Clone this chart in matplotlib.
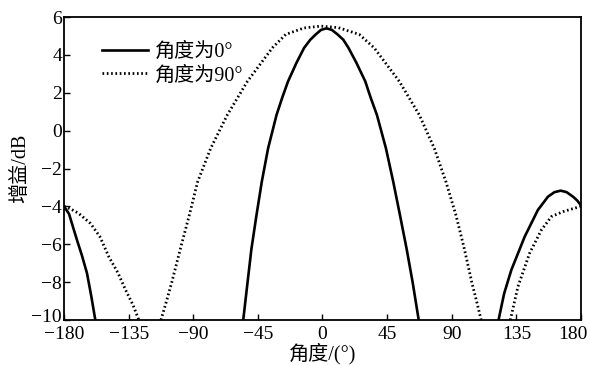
import numpy as np
import matplotlib
matplotlib.use("Agg")
import matplotlib.pyplot as plt
from matplotlib.transforms import ScaledTranslation

plt.rcParams['font.family'] = ['Liberation Serif', 'Noto Sans CJK SC']
plt.rcParams['font.size'] = 14.5
plt.rcParams['axes.unicode_minus'] = True
plt.rcParams['lines.scale_dashes'] = False

# 角度为0° : two rear lobes and the main lobe (NaN breaks the segments)
ang0 = [-180, -176.5, -174.5, -171, -167.5, -164, -161, -158.2, np.nan,
        -55.2, -52.2, -49.5, -46, -42.3, -37.9, -32, -28, -24, -18, -12.8, -8.5, -4.7, -1, 2.8, 6.5, 10.5,
        14.5, 18.1, 23.5, 29.8, 33.5, 37.9, 44.2, 49.3, 54, 58.6, 62.8, 67, np.nan,
        122.6, 126.5, 131.5, 140.8, 150, 157, 161.5, 165.9, 170, 174.5, 177.5, 180]
gain0 = [-4.0, -4.4, -4.9, -5.77, -6.6, -7.53, -8.75, -10, np.nan,
         -10, -8.02, -6.25, -4.48, -2.71, -0.94, 0.83, 1.75, 2.6, 3.6, 4.37, 4.8, 5.08, 5.32, 5.40, 5.32, 5.08,
         4.8, 4.37, 3.6, 2.6, 1.75, 0.83, -0.94, -2.71, -4.48, -6.25, -8.02, -10, np.nan,
         -10, -8.6, -7.36, -5.6, -4.19, -3.49, -3.25, -3.17, -3.25, -3.49, -3.7, -3.95]

# 角度为90°
ang90 = [-180, -175, -169.8, -161.6, -155, -148.8, -142.5, -137.2, -132, -127.9, np.nan,
         -112.5, -109, -105, -99, -92.8, -87, -77.9, -66.3, -52.3, -34.9, -25.6, -13, -1.2, 11, 25.6, 36,
         53.5, 67.4, 77.9, 86, 93, 98.8, 104, 107.6, 110.5, np.nan,
         130.8, 136.1, 144.2, 152.4, 159.4, 163, 167.5, 173, 180]
gain90 = [-4.0, -4.15, -4.37, -4.9, -5.6, -6.66, -7.5, -8.4, -9.2, -10, np.nan,
          -10, -9.1, -8.02, -6.25, -4.48, -2.71, -0.94, 0.83, 2.6, 4.37, 5.08, 5.42, 5.52, 5.44, 5.08, 4.37,
          2.6, 0.83, -0.94, -2.71, -4.48, -6.25, -8.02, -9.1, -10, np.nan,
          -10, -8.24, -6.48, -5.25, -4.54, -4.42, -4.28, -4.15, -4.0]

xticks = [-180, -135, -90, -45, 0, 45, 90, 135, 180]
yticks = [-10, -8, -6, -4, -2, 0, 2, 4, 6]


def main():
    fig = plt.figure(figsize=(5.9, 3.65), dpi=100, facecolor='w')
    ax = fig.add_axes([0.1085, 0.1233, 0.8762, 0.8301])

    ax.plot(ang0, gain0, 'k-', lw=1.9, label='角度为0°')
    ax.plot(ang90, gain90, color='k', lw=2.0, linestyle=(0, (1.2, 1.9)), label='角度为90°')

    ax.set_xlim(-180, 180)
    ax.set_ylim(-10, 6)
    ax.set_xticks(xticks)
    ax.set_yticks(yticks)
    ax.tick_params(axis='x', direction='in', length=4, width=1, top=False, pad=4, labelsize=14)
    ax.tick_params(axis='y', direction='in', length=4, width=1, right=False, pad=1.5, labelsize=14)
    for s in ax.spines.values():
        s.set_linewidth(1.3)

    # pull the last x label in so it stays inside the figure
    lab = ax.get_xticklabels()[-1]
    lab.set_transform(lab.get_transform() + ScaledTranslation(-6 / 72, 0, fig.dpi_scale_trans))
    # nudge the bottom y label up so it clears the -180 label
    lab = ax.get_yticklabels()[0]
    lab.set_transform(lab.get_transform() + ScaledTranslation(0, 3 / 72, fig.dpi_scale_trans))

    ax.set_xlabel('角度/(°)', labelpad=0)
    ax.set_ylabel('增益/dB', labelpad=1)

    ax.legend(loc='upper left', bbox_to_anchor=(0.073, 0.915), frameon=False,
              borderpad=0, borderaxespad=0, handlelength=2.3, handletextpad=0.35,
              labelspacing=0.2)

    fig.savefig('out.png', dpi=100)


if __name__ == '__main__':
    main()
